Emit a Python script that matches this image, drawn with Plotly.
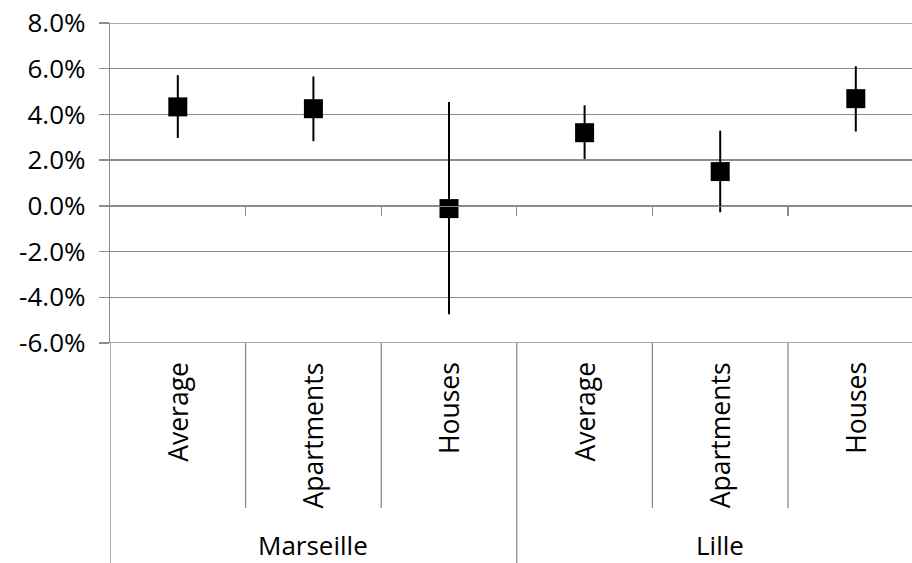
import plotly.graph_objects as go

groups = ["Marseille", "Lille"]
subcats = ["Average", "Apartments", "Houses"]
values = [4.33, 4.25, -0.12, 3.20, 1.50, 4.69]
err_plus = [1.39, 1.41, 4.66, 1.20, 1.79, 1.42]
err_minus = [1.36, 1.42, 4.62, 1.15, 1.78, 1.44]
y_ticks = [-6, -4, -2, 0, 2, 4, 6, 8]
y_tick_labels = [f"{v:.1f}%" for v in y_ticks]

GRID = "#8c8c8c"
FONT = "Open Sans"
n_sub = len(subcats)
n = len(groups) * n_sub
xs = list(range(n))

W, H = 912, 563
ML, MR, MT, MB = 110, 0, 23, 220
plot_w = W - ML - MR
plot_h = H - MT - MB
cat_px = 135.6  # width of one category in px
y_min, y_max = y_ticks[0], y_ticks[-1]

fig = go.Figure()
fig.add_trace(go.Scatter(
    x=xs, y=values, mode="markers",
    marker=dict(symbol="square", size=19, color="black"),
    error_y=dict(type="data", symmetric=False, array=err_plus,
                 arrayminus=err_minus, color="black", thickness=2, width=0),
    showlegend=False, hoverinfo="skip",
))

annotations = []
shapes = []
px2paper = lambda px: -px / plot_h
for gi, g in enumerate(groups):
    for si, s in enumerate(subcats):
        annotations.append(dict(
            x=gi * n_sub + si, xref="x", y=px2paper(17), yref="paper",
            text=s, textangle=-90, showarrow=False,
            xanchor="center", yanchor="top",
            font=dict(family=FONT, size=26.5, color="black"),
        ))
        if si > 0:
            shapes.append(dict(
                type="line", xref="x", yref="paper",
                x0=gi * n_sub + si - 0.5, x1=gi * n_sub + si - 0.5,
                y0=px2paper(165), y1=0,
                line=dict(color=GRID, width=1.3),
            ))
    annotations.append(dict(
        x=gi * n_sub + (n_sub - 1) / 2, xref="x", y=px2paper(202), yref="paper",
        text=g, showarrow=False, xanchor="center", yanchor="middle",
        borderpad=0,
        font=dict(family=FONT, size=26, color="black"),
    ))
    shapes.append(dict(
        type="line", xref="x", yref="paper",
        x0=gi * n_sub - 0.5, x1=gi * n_sub - 0.5,
        y0=px2paper(MB), y1=0,
        line=dict(color=GRID, width=1.3),
    ))

# top and bottom gridlines (plotly skips gridlines at the range ends)
for yv in (y_min, y_max):
    shapes.append(dict(
        type="line", xref="paper", yref="y", x0=0, x1=1, y0=yv, y1=yv,
        line=dict(color=GRID, width=1.3),
    ))

fig.update_layout(
    width=W, height=H,
    margin=dict(l=ML, r=MR, t=MT, b=MB, autoexpand=False),
    plot_bgcolor="white", paper_bgcolor="white",
    font=dict(family=FONT, size=26, color="black"),
    annotations=annotations, shapes=shapes,
    xaxis=dict(
        range=[-0.5, -0.5 + plot_w / cat_px], automargin=False,
        showgrid=False, zeroline=False, showticklabels=False,
        anchor="free", position=(0 - y_min) / (y_max - y_min),
        showline=True, linecolor=GRID, linewidth=1.3,
        ticks="outside", tickvals=[i + 0.5 for i in range(n - 1)],
        ticklen=9, tickcolor=GRID, tickwidth=1.3,
    ),
    yaxis=dict(
        range=[y_min, y_max], tickvals=y_ticks, ticktext=y_tick_labels,
        automargin=False,
        showgrid=True, gridcolor=GRID, gridwidth=1.3, zeroline=False,
        showline=True, linecolor=GRID, linewidth=1.3,
        ticks="outside", ticklen=10, tickcolor=GRID, tickwidth=1.3,
        ticklabelstandoff=8,
        tickfont=dict(family=FONT, size=26, color="black"),
    ),
)

fig.write_html(
    "out.html",
    config={"displayModeBar": False, "staticPlot": True},
    post_script="document.body.style.margin='0';document.body.style.overflow='hidden';",
)
